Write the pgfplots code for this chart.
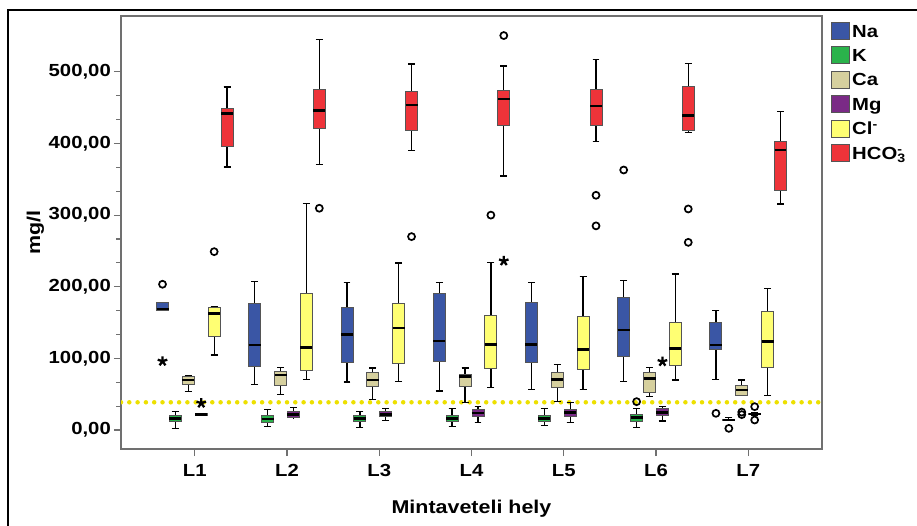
\documentclass[border=0pt]{standalone}
\usepackage{fontspec}
\setmainfont{Liberation Sans}[FakeStretch=1.16]
\usepackage{pgfplots}
\pgfplotsset{compat=1.18}
\usepgfplotslibrary{statistics}
\definecolor{cNa}{HTML}{3A56A5}
\definecolor{cK}{HTML}{2AB34B}
\definecolor{cCa}{HTML}{D6D09E}
\definecolor{cMg}{HTML}{7A2A86}
\definecolor{cCl}{HTML}{FFFF73}
\definecolor{cHC}{HTML}{EE3339}
\definecolor{boxb}{HTML}{555555}
\definecolor{axg}{HTML}{707070}
\definecolor{dotc}{HTML}{EDE000}
\newcommand{\fs}{\fontsize{17.5bp}{20bp}\selectfont\bfseries}
\newcommand{\fl}{\fontsize{18.5bp}{21bp}\selectfont\bfseries}
\begin{document}
\begin{tikzpicture}
\path[use as bounding box] (0bp,0bp) rectangle (917bp,526bp);
\draw[black, line width=1.2bp] (8bp,0bp) -- (8bp,516bp) -- (917bp,516bp);
\begin{axis}[
  at={(121bp,77bp)}, anchor=south west,
  scale only axis, width=701bp, height=433bp,
  xmin=0.2, xmax=7.8, ymin=-26.5, ymax=578,
  xtick={1,2,3,4,5,6,7}, xticklabels={L1,L2,L3,L4,L5,L6,L7},
  ytick={0,100,200,300,400,500},
  minor y tick num=2,
  tick align=outside, tick pos=left,
  major tick length=7bp, minor tick length=5bp,
  tick style={axg, line width=1.2bp},
  axis line style={axg, line width=1.4bp},
  ticklabel style={font=\fs},
  yticklabel style={inner sep=0pt, xshift=-3bp, /pgf/number format/fixed, /pgf/number format/fixed zerofill, /pgf/number format/precision=2, /pgf/number format/use comma, /pgf/number format/assume math mode=true},
  xticklabel style={inner sep=0pt, yshift=-8bp},
  xlabel={Mintaveteli hely},
  ylabel={mg/l},
  every axis x label/.style={at={(axis description cs:0.5,-0.148)}, anchor=base, font=\fl},
  every axis y label/.style={at={(axis description cs:-0.122,0.5)}, anchor=center, rotate=90, font=\fl},
  boxplot/draw direction=y,
  boxplot/box extend=0.13,
  boxplot/whisker extend=0.075,
  boxplot/every box/.style={draw=boxb, line width=0.9bp},
  boxplot/every whisker/.style={black, line width=1.3bp},
  boxplot/every median/.style={black, line width=2.6bp},
]
% reference line
\addplot[dotc, line width=4.5bp, line cap=round, dash pattern=on 0bp off 8.3bp, forget plot] coordinates {(0.2,38.7) (7.8,38.7)};
% L1
\addplot[boxplot prepared={draw position=0.65, lower whisker=167.6, lower quartile=167.6, median=169, upper quartile=178, upper whisker=178}, fill=cNa, forget plot] coordinates {};
\addplot[boxplot prepared={draw position=0.79, lower whisker=2.3, lower quartile=11.6, median=16, upper quartile=21, upper whisker=25.6}, fill=cK, forget plot] coordinates {};
\addplot[boxplot prepared={draw position=0.93, lower whisker=53.5, lower quartile=64.2, median=69.8, upper quartile=75.4, upper whisker=76}, fill=cCa, forget plot] coordinates {};
\addplot[boxplot prepared={draw position=1.07, lower whisker=21, lower quartile=21, median=22, upper quartile=23.5, upper whisker=23.5}, fill=cMg, forget plot] coordinates {};
\addplot[boxplot prepared={draw position=1.21, lower whisker=104.7, lower quartile=130.3, median=163, upper quartile=170.8, upper whisker=172}, fill=cCl, forget plot] coordinates {};
\addplot[boxplot prepared={draw position=1.35, lower whisker=367, lower quartile=395.7, median=442, upper quartile=448.8, upper whisker=479}, fill=cHC, forget plot] coordinates {};
% L2
\addplot[boxplot prepared={draw position=1.65, lower whisker=64, lower quartile=88.5, median=118.7, upper quartile=176, upper whisker=207}, fill=cNa, forget plot] coordinates {};
\addplot[boxplot prepared={draw position=1.79, lower whisker=4.7, lower quartile=10.7, median=15.4, upper quartile=20, upper whisker=29}, fill=cK, forget plot] coordinates {};
\addplot[boxplot prepared={draw position=1.93, lower whisker=50, lower quartile=62, median=76.8, upper quartile=81.5, upper whisker=87}, fill=cCa, forget plot] coordinates {};
\addplot[boxplot prepared={draw position=2.07, lower whisker=17, lower quartile=17.2, median=22, upper quartile=26.5, upper whisker=31.7}, fill=cMg, forget plot] coordinates {};
\addplot[boxplot prepared={draw position=2.21, lower whisker=70.8, lower quartile=82.8, median=115, upper quartile=191, upper whisker=316}, fill=cCl, forget plot] coordinates {};
\addplot[boxplot prepared={draw position=2.35, lower whisker=371, lower quartile=420.4, median=446, upper quartile=474.9, upper whisker=544.7}, fill=cHC, forget plot] coordinates {};
% L3
\addplot[boxplot prepared={draw position=2.65, lower whisker=67, lower quartile=94, median=133, upper quartile=170.8, upper whisker=206}, fill=cNa, forget plot] coordinates {};
\addplot[boxplot prepared={draw position=2.79, lower whisker=3.7, lower quartile=11.6, median=16, upper quartile=21, upper whisker=25.6}, fill=cK, forget plot] coordinates {};
\addplot[boxplot prepared={draw position=2.93, lower whisker=42.8, lower quartile=60.5, median=70, upper quartile=80, upper whisker=86.6}, fill=cCa, forget plot] coordinates {};
\addplot[boxplot prepared={draw position=3.07, lower whisker=13.5, lower quartile=18.6, median=22, upper quartile=26.5, upper whisker=30.3}, fill=cMg, forget plot] coordinates {};
\addplot[boxplot prepared={draw position=3.21, lower whisker=67.5, lower quartile=93.6, median=142.5, upper quartile=177, upper whisker=233}, fill=cCl, forget plot] coordinates {};
\addplot[boxplot prepared={draw position=3.35, lower whisker=390.6, lower quartile=418.6, median=454, upper quartile=472.5, upper whisker=511}, fill=cHC, forget plot] coordinates {};
% L4
\addplot[boxplot prepared={draw position=3.65, lower whisker=54.5, lower quartile=96.4, median=124, upper quartile=190, upper whisker=206}, fill=cNa, forget plot] coordinates {};
\addplot[boxplot prepared={draw position=3.79, lower whisker=4.7, lower quartile=11.6, median=16, upper quartile=21, upper whisker=30}, fill=cK, forget plot] coordinates {};
\addplot[boxplot prepared={draw position=3.93, lower whisker=38.6, lower quartile=60.5, median=74.5, upper quartile=78, upper whisker=86.6}, fill=cCa, forget plot] coordinates {};
\addplot[boxplot prepared={draw position=4.07, lower whisker=10.3, lower quartile=19.5, median=24, upper quartile=29, upper whisker=32.6}, fill=cMg, forget plot] coordinates {};
\addplot[boxplot prepared={draw position=4.21, lower whisker=59, lower quartile=86, median=119.6, upper quartile=159.7, upper whisker=234}, fill=cCl, forget plot] coordinates {};
\addplot[boxplot prepared={draw position=4.35, lower whisker=354.7, lower quartile=424.6, median=462, upper quartile=474, upper whisker=508}, fill=cHC, forget plot] coordinates {};
% L5
\addplot[boxplot prepared={draw position=4.65, lower whisker=57, lower quartile=94, median=119.6, upper quartile=178, upper whisker=206}, fill=cNa, forget plot] coordinates {};
\addplot[boxplot prepared={draw position=4.79, lower whisker=6, lower quartile=11.6, median=16, upper quartile=21, upper whisker=30}, fill=cK, forget plot] coordinates {};
\addplot[boxplot prepared={draw position=4.93, lower whisker=39.6, lower quartile=59, median=70.8, upper quartile=80.6, upper whisker=91}, fill=cCa, forget plot] coordinates {};
\addplot[boxplot prepared={draw position=5.07, lower whisker=10.7, lower quartile=19.5, median=24.6, upper quartile=29.3, upper whisker=38.6}, fill=cMg, forget plot] coordinates {};
\addplot[boxplot prepared={draw position=5.21, lower whisker=57, lower quartile=84.8, median=112, upper quartile=158.8, upper whisker=214}, fill=cCl, forget plot] coordinates {};
\addplot[boxplot prepared={draw position=5.35, lower whisker=402.6, lower quartile=424.6, median=452.5, upper quartile=476, upper whisker=516.8}, fill=cHC, forget plot] coordinates {};
% L6
\addplot[boxplot prepared={draw position=5.65, lower whisker=67.5, lower quartile=103, median=139.7, upper quartile=185, upper whisker=208.5}, fill=cNa, forget plot] coordinates {};
\addplot[boxplot prepared={draw position=5.79, lower whisker=3.7, lower quartile=12.6, median=17.7, upper quartile=22.3, upper whisker=30}, fill=cK, forget plot] coordinates {};
\addplot[boxplot prepared={draw position=5.93, lower whisker=46.6, lower quartile=52.7, median=72, upper quartile=80.6, upper whisker=87.5}, fill=cCa, forget plot] coordinates {};
\addplot[boxplot prepared={draw position=6.07, lower whisker=12.6, lower quartile=21, median=24.6, upper quartile=30, upper whisker=32.6}, fill=cMg, forget plot] coordinates {};
\addplot[boxplot prepared={draw position=6.21, lower whisker=70, lower quartile=90.3, median=113.6, upper quartile=150.4, upper whisker=218}, fill=cCl, forget plot] coordinates {};
\addplot[boxplot prepared={draw position=6.35, lower whisker=415.5, lower quartile=418.6, median=439, upper quartile=479.5, upper whisker=511.6}, fill=cHC, forget plot] coordinates {};
% L7
\addplot[boxplot prepared={draw position=6.65, lower whisker=70.8, lower quartile=112.7, median=118.7, upper quartile=150.4, upper whisker=166.6}, fill=cNa, forget plot] coordinates {};
\addplot[boxplot prepared={draw position=6.79, lower whisker=13, lower quartile=13, median=14, upper quartile=15, upper whisker=17.7}, fill=cK, forget plot] coordinates {};
\addplot[boxplot prepared={draw position=6.93, lower whisker=48, lower quartile=48, median=55.9, upper quartile=62.8, upper whisker=70}, fill=cCa, forget plot] coordinates {};
\addplot[boxplot prepared={draw position=7.07, lower whisker=20, lower quartile=21.5, median=22.3, upper quartile=23, upper whisker=24}, fill=cMg, forget plot] coordinates {};
\addplot[boxplot prepared={draw position=7.21, lower whisker=48, lower quartile=87.5, median=123.4, upper quartile=165, upper whisker=198}, fill=cCl, forget plot] coordinates {};
\addplot[boxplot prepared={draw position=7.35, lower whisker=315.6, lower quartile=335, median=391, upper quartile=402.7, upper whisker=445}, fill=cHC, forget plot] coordinates {};
% outliers (circles)
\addplot[only marks, mark=o, mark size=3.5bp, line width=1.7bp, black, forget plot] coordinates {
 (0.65,203.5) (1.21,249) (2.35,309.6) (3.35,270) (4.21,300) (4.35,550.7)
 (5.35,327.7) (5.35,285) (5.65,363) (5.79,39.6) (6.35,308.6) (6.35,262)
 (6.65,23.3) (6.79,2.3) (6.93,21.5) (6.93,25) (7.07,32.6) (7.07,14)
};
% extremes (stars)
\addplot[only marks, mark=star, mark size=5bp, line width=2.3bp, black, forget plot] coordinates {
 (0.65,96) (1.07,37.5) (4.35,236) (6.07,95.5)
};
\end{axis}
% legend
\foreach \c/\col/\lab in {30.7/cNa/Na, 55/cK/K, 79.5/cCa/Ca, 104/cMg/Mg, 128.5/cCl/{Cl\textsuperscript{-}}, 153/cHC/{HCO\rlap{\textsuperscript{-}}\textsubscript{3}}}{
  \draw[fill=\col, draw=boxb, line width=0.9bp] (831bp,526bp-\c bp-8.5bp) rectangle (849bp,526bp-\c bp+8.5bp);
  \node[anchor=base west, inner sep=0pt, font=\fs] at (852bp,526bp-\c bp-6.4bp) {\lab};
}
\end{tikzpicture}
\end{document}
